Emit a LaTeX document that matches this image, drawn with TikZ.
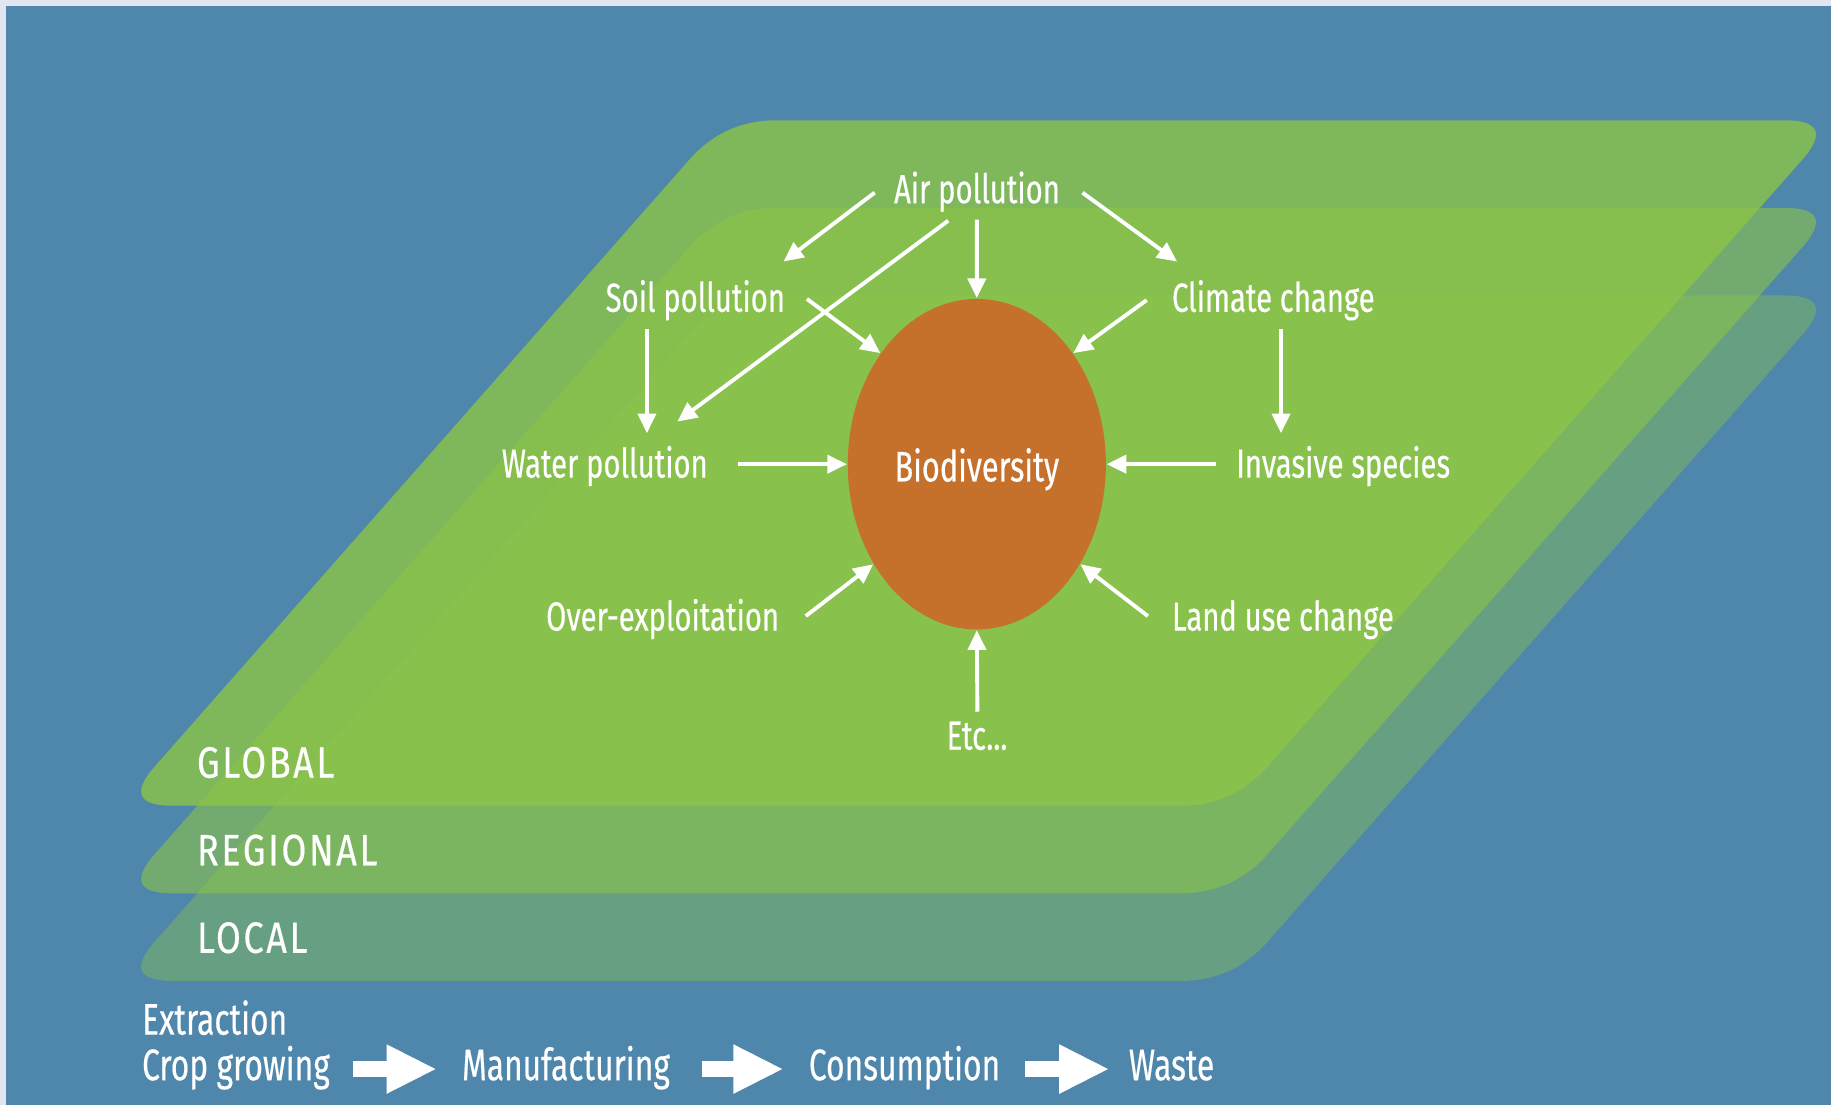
\documentclass[tikz,border=0pt]{standalone}
\usepackage{fontspec}
\usetikzlibrary{arrows.meta,shapes.geometric}
\newfontfamily\lblfont{Fira Sans}[FakeStretch=0.72,FakeBold=0.4]
\newfontfamily\capsfont{Fira Sans}[FakeStretch=0.82,FakeBold=0.4,LetterSpace=6]
\definecolor{bgblue}{HTML}{4F86AB}
\definecolor{sheetgreen}{HTML}{8CC546}
\definecolor{bioorange}{HTML}{C5712C}
\definecolor{paperedge}{HTML}{E2E4EF}
\tikzset{
  lbl/.style={text=white, inner sep=0pt, anchor=base west,
    font=\lblfont\fontsize{9.9}{12}\selectfont},
  scalelbl/.style={lbl, font=\capsfont\fontsize{10.7}{13}\selectfont},
  flowlbl/.style={lbl, font=\lblfont\fontsize{10.75}{13}\selectfont},
  arr/.style={draw=white, line width=0.95pt, -{Triangle[length=4.8pt,width=4.4pt]}},
  flow/.style={draw=white, line width=0.14cm, -{Triangle[length=0.43cm,width=0.39cm]}},
  sheet/.style={fill=sheetgreen, fill opacity=#1}
}
\begin{document}
\begin{tikzpicture}
\useasboundingbox (0,0) rectangle (15.68,9.46);
% paper and blue panel
\fill[paperedge] (0,0) rectangle (15.68,9.46);
\fill[bgblue] (0.05,0) rectangle (15.68,9.41);

% three stacked scale sheets (local, regional, global)
\foreach \dy/\op in {-1.5/0.40, -0.75/0.58, 0/0.80}{
  \fill[sheet=\op, yshift=\dy cm]
    (1.48,2.56) -- (10.11,2.56)
    .. controls (10.41,2.56) and (10.659,2.673) .. (10.857,2.898)
    -- (15.433,8.092)
    .. controls (15.631,8.317) and (15.58,8.43) .. (15.28,8.43)
    -- (6.65,8.43)
    .. controls (6.35,8.43) and (6.101,8.317) .. (5.903,8.092)
    -- (1.327,2.898)
    .. controls (1.129,2.673) and (1.18,2.56) .. (1.48,2.56) -- cycle;
}

% central node
\node[ellipse, fill=bioorange, minimum width=2.21cm, minimum height=2.83cm,
      inner sep=0pt, text=white, text height=1.04em, text depth=0.2em,
      font=\lblfont\fontsize{10.4}{12}\selectfont] (bio) at (8.365,5.485) {Biodiversity};

% pressures
\node[lbl] (air)      at (7.65,7.72)  {Air pollution};
\node[lbl] (soil)     at (5.18,6.79)  {Soil pollution};
\node[lbl] (climate)  at (10.03,6.79) {Climate change};
\node[lbl] (water)    at (4.29,5.37)  {Water pollution};
\node[lbl] (invasive) at (10.58,5.37) {Invasive species};
\node[lbl] (over)     at (4.67,4.06)  {Over-exploitation};
\node[lbl] (land)     at (10.03,4.06) {Land use change};
\node[lbl] (etc)      at (8.10,3.04)  {Etc...};

% scale labels
\node[scalelbl] (global)   at (1.68,2.80) {GLOBAL};
\node[scalelbl] (regional) at (1.68,2.05) {REGIONAL};
\node[scalelbl] (local)    at (1.68,1.30) {LOCAL};

% value chain
\node[flowlbl] (extraction) at (1.21,0.60) {Extraction};
\node[flowlbl] (crop)       at (1.21,0.21) {Crop growing};
\node[flowlbl] (manu)       at (3.95,0.21) {Manufacturing};
\node[flowlbl] (cons)       at (6.92,0.21) {Consumption};
\node[flowlbl] (waste)      at (9.66,0.21) {Waste};

% links between pressures
\draw[arr] ([shift={(-0.16,0.09)}]air.base west) -- ([shift={(1.53,0.43)}]soil.base west);
\draw[arr] ([shift={(0.47,-0.15)}]air.base west) -- ([shift={(1.51,0.48)}]water.base west);
\draw[arr] ([shift={(0.715,-0.14)}]air.base west) -- (bio.north);
\draw[arr] ([shift={(1.62,0.09)}]air.base west) -- ([shift={(0.05,0.43)}]climate.base west);
\draw[arr] ([shift={(0.36,-0.15)}]soil.base west) -- ([shift={(1.25,0.38)}]water.base west);
\draw[arr] ([shift={(1.73,0.11)}]soil.base west) -- (bio.131);
\draw[arr] ([shift={(-0.21,0.10)}]climate.base west) -- (bio.49);
\draw[arr] ([shift={(0.94,-0.15)}]climate.base west) -- ([shift={(0.39,0.38)}]invasive.base west);
\draw[arr] ([shift={(2.03,0.115)}]water.base west) -- (bio.west);
\draw[arr] ([shift={(-0.17,0.115)}]invasive.base west) -- (bio.east);
\draw[arr] ([shift={(2.23,0.124)}]over.base west) -- (bio.224);
\draw[arr] ([shift={(-0.20,0.124)}]land.base west) -- (bio.316);
\draw[arr] ([shift={(0.27,0.325)}]etc.base west) -- (bio.south);

% value chain arrows
\draw[flow] ([shift={(1.81,0.095)}]crop.base west) -- ([shift={(-0.21,0.095)}]manu.base west);
\draw[flow] ([shift={(2.06,0.095)}]manu.base west) -- ([shift={(-0.21,0.095)}]cons.base west);
\draw[flow] ([shift={(1.86,0.095)}]cons.base west) -- ([shift={(-0.16,0.095)}]waste.base west);
\end{tikzpicture}
\end{document}
